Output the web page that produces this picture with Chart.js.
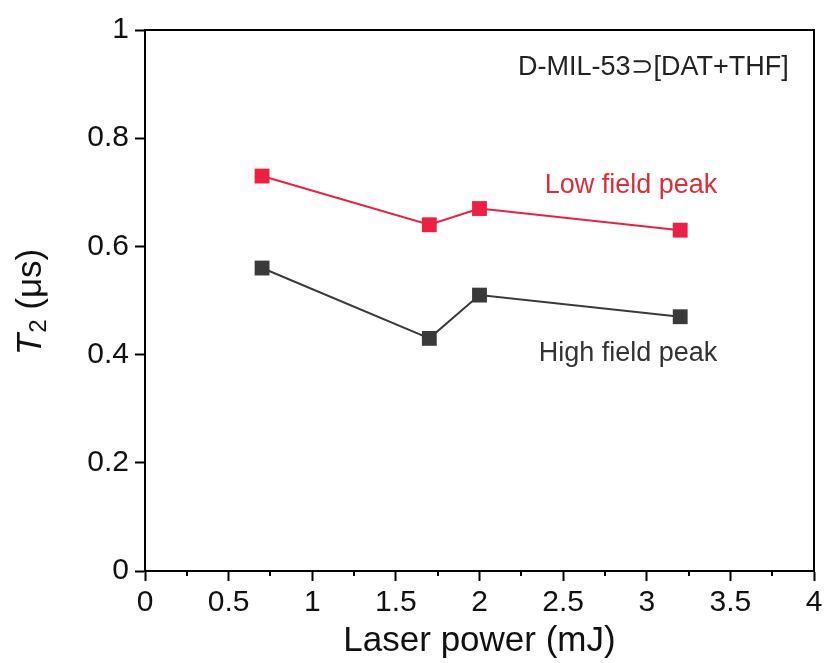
<!DOCTYPE html>
<html>
<head>
<meta charset="utf-8">
<script src="https://cdn.jsdelivr.net/npm/chart.js@4"></script>
<style>
  body { margin: 0; background: #fff; }
</style>
</head>
<body>
<canvas id="myChart" width="829" height="663"></canvas>
<script>
const laserPower = [0.7, 1.7, 2.0, 3.2];
const lowField = [0.73, 0.64, 0.67, 0.63];
const highField = [0.56, 0.43, 0.51, 0.47];

const FONT = "'Liberation Sans', Arial, sans-serif";

const fmt = v => String(+Number(v).toFixed(2));

// frame, minor ticks, axis titles and text labels
const decorations = {
  id: "decorations",
  afterDraw(chart) {
    const ctx = chart.ctx;
    const a = chart.chartArea;
    const x = chart.scales.x;
    const y = chart.scales.y;
    ctx.save();
    ctx.strokeStyle = "#000";
    ctx.lineWidth = 2;
    ctx.strokeRect(a.left, a.top, a.right - a.left, a.bottom - a.top);

    // minor x ticks
    for (let v = 0.25; v < 4; v += 0.5) {
      const px = Math.round(x.getPixelForValue(v));
      ctx.beginPath();
      ctx.moveTo(px, a.bottom);
      ctx.lineTo(px, a.bottom + 5);
      ctx.stroke();
    }

    // x title
    ctx.fillStyle = "#111";
    ctx.font = "35px " + FONT;
    ctx.textAlign = "center";
    ctx.textBaseline = "middle";
    ctx.fillText("Laser power (mJ)", (a.left + a.right) / 2, 641);

    // y title: T2 (μs)
    ctx.save();
    ctx.translate(31, (a.top + a.bottom) / 2 + 2);
    ctx.rotate(-Math.PI / 2);
    ctx.textAlign = "left";
    ctx.textBaseline = "middle";
    ctx.font = "italic 35px " + FONT;
    const tW = ctx.measureText("T").width;
    ctx.font = "24px " + FONT;
    const sW = ctx.measureText("2").width;
    ctx.font = "35px " + FONT;
    const rW = ctx.measureText(" (\u03bcs)").width;
    let sx = -(tW + sW + rW) / 2;
    ctx.font = "italic 35px " + FONT;
    ctx.fillText("T", sx, 0);
    sx += tW + 1;
    ctx.font = "24px " + FONT;
    ctx.fillText("2", sx, 8);
    sx += sW;
    ctx.font = "35px " + FONT;
    ctx.fillText(" (\u03bcs)", sx, 0);
    ctx.restore();

    // annotations
    ctx.textAlign = "center";
    ctx.textBaseline = "middle";
    ctx.font = "27px " + FONT;
    ctx.fillStyle = "#222";
    ctx.fillText("D-MIL-53\u2283[DAT+THF]", x.getPixelForValue(3.04), y.getPixelForValue(0.93));
    ctx.fillStyle = "#d7303a";
    ctx.fillText("Low field peak", x.getPixelForValue(2.906), y.getPixelForValue(0.713));
    ctx.fillStyle = "#333";
    ctx.fillText("High field peak", x.getPixelForValue(2.888), y.getPixelForValue(0.402));
    ctx.restore();
  }
};

new Chart(document.getElementById("myChart").getContext("2d"), {
  type: "line",
  data: {
    datasets: [
      {
        label: "Low field peak",
        data: laserPower.map((p, i) => ({ x: p, y: lowField[i] })),
        borderColor: "#ee1f40",
        backgroundColor: "#ee1f40",
        borderWidth: 2,
        pointStyle: "rect",
        pointRadius: 10.5,
        pointBorderWidth: 0
      },
      {
        label: "High field peak",
        data: laserPower.map((p, i) => ({ x: p, y: highField[i] })),
        borderColor: "#3a3a3a",
        backgroundColor: "#3a3a3a",
        borderWidth: 2,
        pointStyle: "rect",
        pointRadius: 10.5,
        pointBorderWidth: 0
      }
    ]
  },
  options: {
    responsive: false,
    animation: false,
    layout: { padding: { top: 30, right: 15, left: 0, bottom: 0 } },
    plugins: {
      legend: { display: false },
      tooltip: { enabled: false }
    },
    scales: {
      x: {
        type: "linear",
        min: 0,
        max: 4,
        ticks: { stepSize: 0.5, color: "#111", font: { size: 30, family: FONT }, padding: 4, maxRotation: 0, callback: fmt },
        grid: { drawOnChartArea: false, tickLength: 10, tickColor: "#000", tickWidth: 2 },
        border: { color: "#000", width: 2 },
        afterFit(scale) { scale.height = 92; }
      },
      y: {
        min: 0,
        max: 1,
        ticks: { stepSize: 0.2, color: "#111", font: { size: 30, family: FONT }, padding: 6, callback: fmt },
        grid: { drawOnChartArea: false, tickLength: 10, tickColor: "#000", tickWidth: 2 },
        border: { color: "#000", width: 2 },
        afterFit(scale) { scale.width = 145; }
      }
    }
  },
  plugins: [decorations]
});
</script>
</body>
</html>
